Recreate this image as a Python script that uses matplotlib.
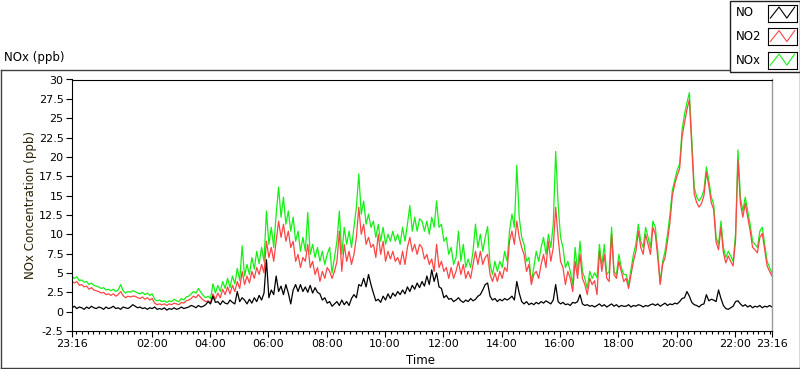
import pandas as pd
import matplotlib
matplotlib.use('Agg')
import matplotlib.pyplot as plt
import matplotlib.dates as mdates
from matplotlib.lines import Line2D
from matplotlib.patches import Rectangle

plt.rcParams['font.family'] = ['DejaVu Sans']

# 5-minute readings starting 23:16, one row per hour
start_time = '2020-01-01 23:16'

nox_ppb = [
  4.6, 4.3, 4.5, 4.0, 4.1, 3.8, 3.9, 3.5, 3.7, 3.4, 3.3, 3.2,
  3.0, 3.1, 2.8, 2.9, 2.7, 2.9, 2.6, 2.8, 3.5, 2.7, 2.4, 2.6,
  2.5, 2.7, 2.6, 2.4, 2.3, 2.5, 2.2, 2.4, 2.1, 2.3, 1.6, 1.4,
  1.5, 1.3, 1.4, 1.2, 1.4, 1.3, 1.6, 1.4, 1.3, 1.7, 1.5, 1.9,
  2.0, 2.3, 2.6, 2.4, 3.0, 2.5, 2.1, 1.8, 2.0, 1.7, 3.6, 2.4,
  3.4, 2.6, 3.9, 3.0, 4.3, 3.1, 4.6, 3.6, 5.6, 4.0, 8.5, 4.6,
  6.1, 4.8, 7.0, 5.5, 7.8, 6.2, 8.3, 6.5, 13.0, 8.7, 10.9, 8.3,
  12.6, 16.1, 12.2, 14.8, 11.3, 13.0, 10.4, 12.2, 9.1, 10.4, 7.8, 9.6,
  7.8, 12.8, 7.4, 8.7, 7.0, 8.3, 6.5, 7.8, 6.1, 7.4, 8.3, 5.0,
  7.0, 9.1, 13.0, 7.4, 10.9, 8.7, 10.4, 8.3, 10.9, 13.5, 17.8, 12.6,
  14.3, 11.3, 12.6, 10.9, 11.7, 9.6, 11.3, 9.1, 10.9, 8.7, 10.0, 9.1,
  10.4, 9.1, 10.0, 8.7, 10.9, 9.1, 11.3, 13.7, 10.4, 12.2, 10.4, 12.0,
  11.7, 10.4, 11.7, 10.0, 12.2, 10.9, 14.3, 10.9, 11.3, 9.1, 9.6, 7.4,
  8.3, 6.1, 7.0, 10.4, 6.5, 8.7, 5.7, 6.8, 5.7, 7.8, 11.3, 8.3,
  10.0, 7.8, 9.6, 11.0, 6.1, 4.8, 6.5, 5.2, 6.5, 5.7, 7.8, 6.5,
  10.4, 12.6, 10.9, 18.9, 12.2, 9.6, 8.7, 6.5, 7.0, 3.9, 5.7, 7.8,
  6.5, 8.3, 9.6, 7.4, 10.0, 8.3, 11.3, 20.7, 13.9, 9.6, 8.3, 5.7,
  6.5, 5.2, 3.5, 8.3, 5.2, 9.1, 5.2, 4.3, 3.0, 5.2, 4.3, 5.0,
  4.4, 8.7, 6.0, 8.7, 4.8, 5.2, 10.9, 5.2, 4.8, 7.4, 5.7, 4.8,
  4.8, 3.5, 5.5, 7.4, 8.7, 11.3, 9.1, 8.3, 10.9, 9.6, 8.3, 11.7,
  10.9, 7.8, 3.7, 6.5, 7.8, 10.0, 12.5, 15.7, 17.0, 18.3, 19.1, 23.5,
  25.5, 27.0, 28.3, 22.2, 16.1, 14.8, 14.3, 14.8, 15.7, 18.7, 17.0, 14.8,
  13.9, 9.6, 8.7, 11.7, 8.3, 7.0, 7.8, 7.2, 6.5, 10.0, 20.9, 14.8,
  13.0, 14.8, 13.0, 11.3, 9.1, 8.7, 8.3, 10.4, 10.9, 8.7, 6.5, 5.7,
  5.0]

no2_ppb = [
  3.9, 3.7, 3.9, 3.4, 3.5, 3.2, 3.3, 2.9, 3.1, 2.8, 2.7, 2.6,
  2.4, 2.5, 2.2, 2.3, 2.1, 2.3, 2.0, 2.2, 2.6, 2.1, 1.8, 2.0,
  1.9, 2.0, 2.0, 1.8, 1.7, 1.9, 1.6, 1.8, 1.5, 1.7, 1.1, 0.9,
  1.0, 0.9, 1.0, 0.8, 1.0, 0.9, 1.1, 1.0, 0.9, 1.2, 1.1, 1.4,
  1.5, 1.7, 2.0, 1.8, 2.2, 1.8, 1.5, 1.3, 1.4, 1.2, 2.3, 1.6,
  2.4, 1.8, 2.9, 2.2, 3.2, 2.3, 3.4, 2.6, 3.9, 3.0, 5.2, 3.5,
  4.6, 3.7, 5.2, 4.3, 5.7, 4.8, 6.1, 5.0, 9.1, 7.0, 8.3, 6.5,
  9.1, 11.7, 9.6, 11.3, 9.1, 10.4, 8.3, 9.1, 6.5, 7.4, 5.7, 7.0,
  6.5, 8.7, 5.7, 6.5, 4.8, 5.7, 3.9, 5.2, 4.3, 5.7, 5.2, 4.3,
  5.2, 6.5, 10.4, 5.2, 8.7, 6.5, 7.8, 6.1, 7.4, 9.6, 13.5, 10.0,
  11.3, 8.7, 9.6, 8.3, 8.7, 7.0, 10.0, 7.4, 9.1, 6.5, 7.8, 6.8,
  7.8, 6.5, 7.0, 6.1, 7.8, 6.1, 8.3, 9.6, 7.8, 8.7, 7.4, 8.7,
  8.3, 6.8, 7.4, 6.1, 6.8, 5.2, 8.7, 5.7, 6.5, 5.2, 5.7, 4.3,
  5.7, 4.3, 5.2, 6.5, 4.8, 6.1, 4.3, 5.2, 4.3, 6.1, 7.8, 6.1,
  7.8, 6.1, 7.0, 7.4, 4.8, 3.9, 5.0, 3.9, 5.2, 4.3, 5.7, 5.2,
  9.1, 10.4, 8.7, 11.7, 9.6, 8.3, 7.4, 5.2, 6.1, 3.5, 4.8, 5.2,
  4.3, 6.1, 7.4, 5.7, 9.1, 6.5, 8.3, 13.5, 9.6, 6.5, 5.7, 3.5,
  5.2, 4.3, 2.6, 6.5, 4.3, 7.4, 4.3, 3.5, 2.2, 4.3, 3.5, 4.0,
  2.2, 7.8, 5.2, 7.4, 4.3, 3.9, 10.0, 4.8, 4.3, 6.5, 5.2, 3.9,
  4.3, 3.0, 4.8, 6.5, 7.8, 10.4, 8.3, 7.4, 10.0, 8.7, 7.4, 10.9,
  10.0, 7.0, 3.5, 6.1, 7.0, 9.1, 11.5, 15.0, 16.5, 17.6, 18.5, 22.6,
  24.4, 26.1, 27.4, 21.3, 15.2, 14.1, 13.5, 14.0, 15.0, 18.0, 16.3, 14.1,
  13.2, 9.0, 8.0, 10.9, 7.6, 6.3, 7.2, 6.5, 5.9, 9.2, 19.6, 14.0,
  12.2, 14.0, 12.2, 10.5, 8.3, 8.0, 7.6, 9.6, 10.1, 8.0, 5.9, 5.2,
  4.6]

no_ppb = [
  0.5, 0.7, 0.4, 0.6, 0.5, 0.3, 0.6, 0.4, 0.7, 0.5, 0.4, 0.6,
  0.5, 0.3, 0.6, 0.4, 0.5, 0.7, 0.4, 0.5, 0.3, 0.6, 0.5, 0.4,
  0.6, 0.9, 0.7, 0.5, 0.6, 0.4, 0.5, 0.3, 0.5, 0.4, 0.6, 0.3,
  0.4, 0.3, 0.5, 0.2, 0.4, 0.3, 0.5, 0.3, 0.4, 0.6, 0.4, 0.5,
  0.6, 0.8, 0.7, 0.5, 0.8, 0.6, 0.7, 0.9, 1.3, 1.0, 2.0, 1.2,
  1.3, 0.9, 1.4, 1.1, 1.0, 1.5, 1.2, 1.0, 2.6, 1.3, 1.8, 1.5,
  1.0, 1.6, 1.1, 1.8, 1.3, 2.1, 1.5, 2.4, 6.7, 1.8, 2.8, 2.2,
  4.6, 2.6, 3.3, 2.2, 3.5, 2.4, 1.0, 2.8, 3.5, 2.6, 3.5, 2.6,
  3.2, 2.5, 3.4, 2.4, 3.1, 2.5, 2.3, 1.5, 1.8, 1.1, 1.3, 0.7,
  1.0, 1.3, 0.8, 1.5, 0.9, 1.3, 0.8, 1.7, 2.2, 1.8, 3.5, 3.3,
  4.3, 3.2, 4.8, 3.5, 2.4, 1.4, 1.6, 1.2, 2.0, 1.5, 2.3, 1.7,
  2.4, 2.0, 2.6, 2.2, 2.8, 2.3, 3.2, 2.6, 3.4, 2.9, 3.7, 3.1,
  3.9, 3.3, 4.6, 3.5, 5.4, 3.9, 5.0, 3.2, 3.0, 1.8, 2.1, 1.6,
  1.7, 1.3, 1.5, 1.8, 1.4, 1.2, 1.5, 1.3, 1.7, 1.4, 1.6, 2.0,
  2.2, 2.8, 3.5, 3.7, 2.0, 1.5, 1.7, 1.3, 1.6, 1.4, 1.7, 1.5,
  1.7, 2.0, 1.5, 3.9, 2.4, 1.3, 1.0, 1.3, 0.9, 1.1, 0.9, 1.2,
  1.0, 1.3, 1.1, 1.4, 1.2, 1.0, 1.5, 3.5, 1.3, 1.0, 1.2, 0.9,
  1.0, 0.8, 1.2, 1.1, 1.3, 2.2, 1.0, 0.8, 0.9, 0.7, 0.8, 0.6,
  0.8, 1.0, 0.7, 0.9, 0.6, 0.8, 1.0, 0.7, 0.9, 0.6, 0.8, 0.7,
  0.7, 0.9, 0.6, 0.8, 0.7, 0.9, 0.8, 0.6, 0.8, 0.7, 0.9, 1.0,
  0.8, 1.0, 0.7, 0.9, 1.1, 0.8, 1.0, 0.9, 1.1, 1.0, 1.3, 1.7,
  1.8, 2.6, 2.0, 1.2, 0.9, 0.8, 0.6, 0.9, 1.0, 2.2, 1.4, 1.6,
  1.5, 1.3, 2.8, 1.7, 0.8, 0.4, 0.3, 0.5, 0.7, 1.3, 1.4, 1.0,
  0.7, 0.9, 0.6, 0.8, 0.5, 0.7, 0.6, 0.8, 0.5, 0.7, 0.6, 0.8,
  0.6]

series_names = ['NO', 'NO2', 'NOx']
series_colors = ['#000000', '#ff4545', '#14f014']
y_ticks = [-2.5, 0, 2.5, 5, 7.5, 10, 12.5, 15, 17.5, 20, 22.5, 25, 27.5, 30]
y_tick_labels = ['-2.5', '0', '2.5', '5', '7.5', '10', '12.5', '15', '17.5',
                 '20', '22.5', '25', '27.5', '30']


W, H = 800, 369


def fx(px):
  return px / W


def fy(py):
  return 1 - py / H


def main():
  times = pd.date_range(start_time, periods=len(nox_ppb), freq='5min')
  assert len(no2_ppb) == len(times) and len(no_ppb) == len(times)

  fig = plt.figure(figsize=(W / 100, H / 100), dpi=100)
  fig.patch.set_facecolor('white')

  ax = fig.add_axes([fx(72), fy(331), fx(772) - fx(72), fy(79.5) - fy(331)])
  ax.plot(times, nox_ppb, color=series_colors[2], lw=0.9)
  ax.plot(times, no2_ppb, color=series_colors[1], lw=0.9)
  ax.plot(times, no_ppb, color=series_colors[0], lw=0.9)

  ax.set_xlim(times[0], times[-1])
  ax.set_ylim(-2.5, 30)
  ax.set_yticks(y_ticks)
  ax.set_yticklabels(y_tick_labels)

  major = [times[0]] + list(pd.date_range('2020-01-02 02:00', '2020-01-02 22:00', freq='2h')) + [times[-1]]
  ax.set_xticks(major)
  ax.xaxis.set_major_formatter(mdates.DateFormatter('%H:%M'))
  ax.xaxis.set_minor_locator(mdates.MinuteLocator(byminute=[0, 12, 24, 36, 48]))

  ax.tick_params(axis='both', which='major', direction='out', length=4, width=0.8,
                 labelsize=8, pad=2, colors='black')
  ax.tick_params(axis='x', which='minor', direction='out', length=2.2, width=0.8)
  for side in ['left', 'bottom', 'top']:
    ax.spines[side].set_color('black')
    ax.spines[side].set_linewidth(0.8)
  ax.spines['right'].set_color('#9a9a9a')
  ax.spines['right'].set_linewidth(1.0)

  fig.text(fx(421), fy(361), 'Time', ha='center', va='center', fontsize=8.5)
  fig.text(fx(31), fy(205), 'NOx Concentration (ppb)', ha='center', va='center',
           rotation=90, fontsize=8.5, color='#2a2000')
  fig.text(fx(4), fy(58), 'NOx (ppb)', ha='left', va='center', fontsize=8.5)

  # panel frame
  frame = dict(transform=fig.transFigure, color='#404040', lw=1.0)
  fig.add_artist(Line2D([fx(0.5), fx(730)], [fy(69.5), fy(69.5)], **frame))
  fig.add_artist(Line2D([fx(0.5), fx(0.5)], [fy(69.5), fy(368)], **frame))
  fig.add_artist(Line2D([fx(0.5), fx(799.5)], [fy(368), fy(368)], **frame))
  fig.add_artist(Line2D([fx(799.5), fx(799.5)], [fy(72), fy(368)], **frame))

  # legend box, kept below the sample axes
  fig.add_artist(Rectangle((fx(730), fy(72)), fx(799.5) - fx(730), fy(0.5) - fy(72),
                           transform=fig.transFigure, facecolor='white',
                           edgecolor='#202020', lw=1.0, zorder=-5))
  for i, (name, color) in enumerate(zip(series_names, series_colors)):
    cy = 13 + 23.5 * i
    fig.text(fx(736), fy(cy), name, ha='left', va='center', fontsize=8.5)
    lax = fig.add_axes([fx(768), fy(cy + 8.5), fx(797) - fx(768), fy(cy - 8.5) - fy(cy + 8.5)])
    lax.set_zorder(5)
    lax.set_xticks([])
    lax.set_yticks([])
    lax.set_xlim(0, 1)
    lax.set_ylim(0, 1)
    for s in lax.spines.values():
      s.set_color('black')
      s.set_linewidth(0.8)
    lax.plot([0.08, 0.38, 0.65, 0.92], [0.2, 0.85, 0.2, 0.85], color=color, lw=0.8)

  fig.savefig('out.png', dpi=100, facecolor='white')


if __name__ == '__main__':
  main()
